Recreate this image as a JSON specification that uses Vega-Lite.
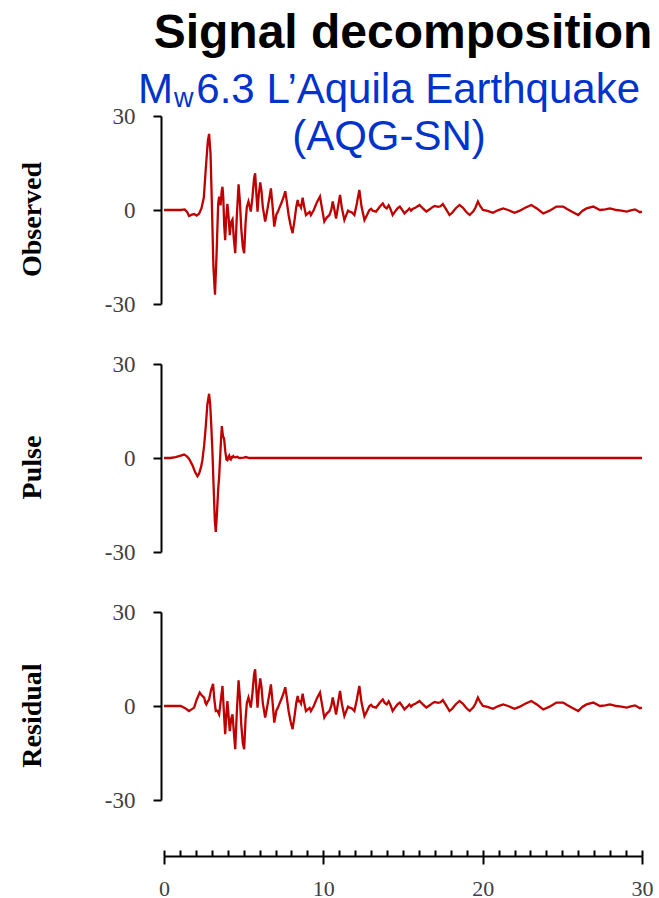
{
  "$schema": "https://vega.github.io/schema/vega-lite/v6.json",
  "background": "white",
  "padding": {"left": 18, "top": 10, "right": 5, "bottom": 0},
  "title": {"text": "Signal decomposition", "font": "Liberation Sans", "fontSize": 48, "fontWeight": "bold", "color": "black", "anchor": "middle", "frame": "group", "offset": 11},
  "bounds": "flush",
  "spacing": 60,
  "datasets": {
    "observed": [
      {"t":0,"v":0},{"t":0.5,"v":0},{"t":1.05,"v":0},{"t":1.3,"v":0.2},{"t":1.45,"v":-0.6},{"t":1.57,"v":-1.9},{"t":1.75,"v":-1.5},{"t":1.9,"v":-1.3},{"t":2.05,"v":-1.8},{"t":2.2,"v":-1.2},{"t":2.35,"v":0.5},{"t":2.5,"v":4},{"t":2.62,"v":13},{"t":2.75,"v":22},{"t":2.83,"v":24.3},{"t":2.92,"v":18},{"t":3.0,"v":3},{"t":3.1,"v":-18},{"t":3.2,"v":-27},{"t":3.3,"v":-14},{"t":3.4,"v":2},{"t":3.46,"v":4.3},{"t":3.55,"v":1.5},{"t":3.62,"v":6},{"t":3.67,"v":7.4},{"t":3.72,"v":4},{"t":3.78,"v":-5},{"t":3.84,"v":-9.6},{"t":3.9,"v":-3},{"t":3.98,"v":2},{"t":4.05,"v":-2},{"t":4.13,"v":-8},{"t":4.2,"v":-4},{"t":4.3,"v":-3},{"t":4.38,"v":-9},{"t":4.47,"v":-13.8},
      {"t":4.57,"v":-2},{"t":4.68,"v":8.2},{"t":4.76,"v":3},{"t":4.85,"v":-6},{"t":4.95,"v":-12},{"t":5.03,"v":-13.8},{"t":5.12,"v":-4},{"t":5.2,"v":1},{"t":5.3,"v":2.7},{"t":5.45,"v":-0.5},{"t":5.55,"v":4},{"t":5.65,"v":10},{"t":5.72,"v":11.7},{"t":5.8,"v":5},{"t":5.87,"v":-0.5},{"t":5.95,"v":5},{"t":6.04,"v":8.8},{"t":6.12,"v":6},{"t":6.2,"v":1},{"t":6.35,"v":-3.7},{"t":6.45,"v":-1},{"t":6.55,"v":2},{"t":6.62,"v":4},{"t":6.71,"v":6.9},{"t":6.8,"v":2},{"t":6.92,"v":-5.3},{"t":7.05,"v":-1.5},{"t":7.15,"v":-0.5},{"t":7.23,"v":0.5},{"t":7.35,"v":2},{"t":7.5,"v":4},{"t":7.61,"v":6},{"t":7.7,"v":3},{"t":7.82,"v":-1.6},{"t":7.95,"v":-5},{"t":8.07,"v":-7.4},{"t":8.2,"v":-3},{"t":8.3,"v":1},{"t":8.39,"v":3.2},{"t":8.45,"v":1.5},{"t":8.53,"v":1.6},{"t":8.6,"v":0.8},{"t":8.7,"v":3.9},{"t":8.8,"v":1},{"t":8.91,"v":-1.6},{"t":9.05,"v":-1},{"t":9.14,"v":-0.6},{"t":9.22,"v":-1.6},{"t":9.4,"v":0},{"t":9.6,"v":2.5},{"t":9.79,"v":4.3},{"t":9.9,"v":1},{"t":10.06,"v":-3.7},{"t":10.2,"v":-2.5},{"t":10.38,"v":-1.6},{"t":10.5,"v":0},{"t":10.59,"v":2.7},{"t":10.7,"v":0},{"t":10.8,"v":-2.7},{"t":10.92,"v":1},{"t":11.05,"v":4.8},{"t":11.15,"v":1},{"t":11.32,"v":-3.2},{"t":11.45,"v":-1.5},{"t":11.55,"v":-0.2},{"t":11.64,"v":-0.5},{"t":11.8,"v":-0.8},{"t":11.95,"v":-1.6},{"t":12.1,"v":2},{"t":12.26,"v":6.4},{"t":12.4,"v":1},{"t":12.58,"v":-3.2},{"t":12.75,"v":-1.5},{"t":12.89,"v":0},{"t":13.0,"v":0.4},{"t":13.1,"v":-0.2},{"t":13.31,"v":-0.5},{"t":13.5,"v":0.8},{"t":13.62,"v":1.5},{"t":13.73,"v":2.1},{"t":13.85,"v":1},{"t":13.98,"v":0.5},{"t":14.1,"v":1.5},{"t":14.2,"v":0.5},{"t":14.35,"v":-1.6},{"t":14.5,"v":-0.5},{"t":14.65,"v":0.5},{"t":14.8,"v":1.1},{"t":14.95,"v":0},{"t":15.09,"v":-1.1},{"t":15.25,"v":-0.3},{"t":15.4,"v":0.5},{"t":15.5,"v":-0.2},{"t":15.6,"v":0.3},{"t":15.8,"v":0.8},{"t":16.04,"v":1.6},{"t":16.25,"v":0.5},{"t":16.46,"v":-0.5},{"t":16.7,"v":0.3},{"t":16.85,"v":0.9},{"t":16.98,"v":1.3},{"t":17.2,"v":1},{"t":17.35,"v":1.2},{"t":17.5,"v":1.9},{"t":17.7,"v":0.3},{"t":17.92,"v":-1.6},{"t":18.1,"v":-0.8},{"t":18.3,"v":0.5},{"t":18.55,"v":1.6},{"t":18.75,"v":0.8},{"t":18.95,"v":-0.5},{"t":19.18,"v":-1.6},{"t":19.4,"v":-0.5},{"t":19.55,"v":0.8},{"t":19.7,"v":2.7},{"t":19.85,"v":1.2},{"t":20.02,"v":0},{"t":20.3,"v":-0.3},{"t":20.65,"v":-0.9},{"t":20.95,"v":-0.1},{"t":21.28,"v":0.5},{"t":21.6,"v":0},{"t":22.0,"v":-0.9},{"t":22.3,"v":-0.3},{"t":22.7,"v":0.8},{"t":23.06,"v":1.6},{"t":23.4,"v":0.5},{"t":23.8,"v":-1.1},{"t":24.2,"v":-0.2},{"t":24.63,"v":1.1},{"t":25.05,"v":1.1},{"t":25.3,"v":0.3},{"t":25.58,"v":-0.5},{"t":26.0,"v":-1.6},{"t":26.25,"v":-0.3},{"t":26.52,"v":0.5},{"t":26.94,"v":1.1},{"t":27.36,"v":0},{"t":27.7,"v":0.2},{"t":27.99,"v":0.5},{"t":28.4,"v":0},{"t":28.7,"v":-0.2},{"t":29.04,"v":-0.5},{"t":29.3,"v":-0.1},{"t":29.56,"v":0.2},{"t":29.87,"v":-0.7},{"t":30,"v":-0.5}
    ],
    "pulse": [
      {"t":0,"v":0},{"t":0.4,"v":0},{"t":0.73,"v":0.3},{"t":1.0,"v":0.7},{"t":1.26,"v":1.1},{"t":1.42,"v":0.6},{"t":1.57,"v":-0.2},{"t":1.8,"v":-2.5},{"t":1.95,"v":-4.5},{"t":2.1,"v":-5.8},{"t":2.2,"v":-5},{"t":2.32,"v":-3},{"t":2.41,"v":-0.7},{"t":2.52,"v":4},{"t":2.62,"v":10},{"t":2.72,"v":17},{"t":2.83,"v":20.5},{"t":2.9,"v":17},{"t":2.97,"v":10},{"t":3.04,"v":2},{"t":3.12,"v":-10},{"t":3.19,"v":-20},{"t":3.25,"v":-23.6},{"t":3.32,"v":-18},{"t":3.4,"v":-10},{"t":3.46,"v":-6.1},{"t":3.55,"v":3},{"t":3.63,"v":10.2},{"t":3.7,"v":7},{"t":3.77,"v":6.2},{"t":3.85,"v":2},{"t":3.92,"v":-0.5},{"t":3.98,"v":-0.7},{"t":4.05,"v":0.5},{"t":4.09,"v":0.8},{"t":4.14,"v":-0.3},{"t":4.19,"v":-0.5},{"t":4.25,"v":0.3},{"t":4.3,"v":0.2},{"t":4.35,"v":0.6},{"t":4.4,"v":0.3},{"t":4.5,"v":0.2},{"t":4.6,"v":0.4},{"t":4.72,"v":0},{"t":5.0,"v":0.1},{"t":5.14,"v":0.3},{"t":5.35,"v":0},{"t":10,"v":0},{"t":20,"v":0},{"t":30,"v":0}
    ],
    "residual": [
      {"t":0,"v":0},{"t":0.5,"v":0},{"t":1.05,"v":0},{"t":1.3,"v":-0.6},{"t":1.57,"v":-1.6},{"t":1.75,"v":-1},{"t":1.89,"v":-0.5},{"t":2.05,"v":2},{"t":2.24,"v":4.3},{"t":2.35,"v":3.5},{"t":2.52,"v":2.7},{"t":2.6,"v":1},{"t":2.66,"v":0.5},{"t":2.75,"v":1.5},{"t":2.83,"v":2.1},{"t":2.95,"v":5},{"t":3.08,"v":7.1},{"t":3.16,"v":2},{"t":3.25,"v":-1.6},{"t":3.35,"v":-1.5},{"t":3.46,"v":-2.7},{"t":3.57,"v":2},{"t":3.67,"v":6.4},{"t":3.76,"v":-2},{"t":3.84,"v":-9},{"t":3.91,"v":-3},{"t":3.98,"v":1.6},{"t":4.05,"v":-3},{"t":4.13,"v":-8},{"t":4.22,"v":-4},{"t":4.3,"v":-2.7},{"t":4.38,"v":-8},{"t":4.47,"v":-13.8},
      {"t":4.57,"v":-2},{"t":4.68,"v":8.2},{"t":4.76,"v":3},{"t":4.85,"v":-6},{"t":4.95,"v":-12},{"t":5.03,"v":-13.8},{"t":5.12,"v":-4},{"t":5.2,"v":1},{"t":5.3,"v":2.7},{"t":5.45,"v":-0.5},{"t":5.55,"v":4},{"t":5.65,"v":10},{"t":5.72,"v":11.7},{"t":5.8,"v":5},{"t":5.87,"v":-0.5},{"t":5.95,"v":5},{"t":6.04,"v":8.8},{"t":6.12,"v":6},{"t":6.2,"v":1},{"t":6.35,"v":-3.7},{"t":6.45,"v":-1},{"t":6.55,"v":2},{"t":6.62,"v":4},{"t":6.71,"v":6.9},{"t":6.8,"v":2},{"t":6.92,"v":-5.3},{"t":7.05,"v":-1.5},{"t":7.15,"v":-0.5},{"t":7.23,"v":0.5},{"t":7.35,"v":2},{"t":7.5,"v":4},{"t":7.61,"v":6},{"t":7.7,"v":3},{"t":7.82,"v":-1.6},{"t":7.95,"v":-5},{"t":8.07,"v":-7.4},{"t":8.2,"v":-3},{"t":8.3,"v":1},{"t":8.39,"v":3.2},{"t":8.45,"v":1.5},{"t":8.53,"v":1.6},{"t":8.6,"v":0.8},{"t":8.7,"v":3.9},{"t":8.8,"v":1},{"t":8.91,"v":-1.6},{"t":9.05,"v":-1},{"t":9.14,"v":-0.6},{"t":9.22,"v":-1.6},{"t":9.4,"v":0},{"t":9.6,"v":2.5},{"t":9.79,"v":4.3},{"t":9.9,"v":1},{"t":10.06,"v":-3.7},{"t":10.2,"v":-2.5},{"t":10.38,"v":-1.6},{"t":10.5,"v":0},{"t":10.59,"v":2.7},{"t":10.7,"v":0},{"t":10.8,"v":-2.7},{"t":10.92,"v":1},{"t":11.05,"v":4.8},{"t":11.15,"v":1},{"t":11.32,"v":-3.2},{"t":11.45,"v":-1.5},{"t":11.55,"v":-0.2},{"t":11.64,"v":-0.5},{"t":11.8,"v":-0.8},{"t":11.95,"v":-1.6},{"t":12.1,"v":2},{"t":12.26,"v":6.4},{"t":12.4,"v":1},{"t":12.58,"v":-3.2},{"t":12.75,"v":-1.5},{"t":12.89,"v":0},{"t":13.0,"v":0.4},{"t":13.1,"v":-0.2},{"t":13.31,"v":-0.5},{"t":13.5,"v":0.8},{"t":13.62,"v":1.5},{"t":13.73,"v":2.1},{"t":13.85,"v":1},{"t":13.98,"v":0.5},{"t":14.1,"v":1.5},{"t":14.2,"v":0.5},{"t":14.35,"v":-1.6},{"t":14.5,"v":-0.5},{"t":14.65,"v":0.5},{"t":14.8,"v":1.1},{"t":14.95,"v":0},{"t":15.09,"v":-1.1},{"t":15.25,"v":-0.3},{"t":15.4,"v":0.5},{"t":15.5,"v":-0.2},{"t":15.6,"v":0.3},{"t":15.8,"v":0.8},{"t":16.04,"v":1.6},{"t":16.25,"v":0.5},{"t":16.46,"v":-0.5},{"t":16.7,"v":0.3},{"t":16.85,"v":0.9},{"t":16.98,"v":1.3},{"t":17.2,"v":1},{"t":17.35,"v":1.2},{"t":17.5,"v":1.9},{"t":17.7,"v":0.3},{"t":17.92,"v":-1.6},{"t":18.1,"v":-0.8},{"t":18.3,"v":0.5},{"t":18.55,"v":1.6},{"t":18.75,"v":0.8},{"t":18.95,"v":-0.5},{"t":19.18,"v":-1.6},{"t":19.4,"v":-0.5},{"t":19.55,"v":0.8},{"t":19.7,"v":2.7},{"t":19.85,"v":1.2},{"t":20.02,"v":0},{"t":20.3,"v":-0.3},{"t":20.65,"v":-0.9},{"t":20.95,"v":-0.1},{"t":21.28,"v":0.5},{"t":21.6,"v":0},{"t":22.0,"v":-0.9},{"t":22.3,"v":-0.3},{"t":22.7,"v":0.8},{"t":23.06,"v":1.6},{"t":23.4,"v":0.5},{"t":23.8,"v":-1.1},{"t":24.2,"v":-0.2},{"t":24.63,"v":1.1},{"t":25.05,"v":1.1},{"t":25.3,"v":0.3},{"t":25.58,"v":-0.5},{"t":26.0,"v":-1.6},{"t":26.25,"v":-0.3},{"t":26.52,"v":0.5},{"t":26.94,"v":1.1},{"t":27.36,"v":0},{"t":27.7,"v":0.2},{"t":27.99,"v":0.5},{"t":28.4,"v":0},{"t":28.7,"v":-0.2},{"t":29.04,"v":-0.5},{"t":29.3,"v":-0.1},{"t":29.56,"v":0.2},{"t":29.87,"v":-0.7},{"t":30,"v":-0.5}
    ]
  },
  "vconcat": [
    {
      "title": {"text": ["M\u00a0\u00a06.3 L\u2019Aquila Earthquake", "(AQG-SN)"], "font": "Liberation Sans", "fontSize": 42, "fontWeight": "normal", "color": "#0033cc", "lineHeight": 47, "anchor": "middle", "frame": "group", "dx": -14, "offset": -54},
      "width": 478, "height": 188,
      "data": {"name": "observed"},
      "mark": {"type": "line"},
      "encoding": {
        "x": {"field": "t", "type": "quantitative", "scale": {"domain": [0, 30], "nice": false}, "axis": null},
        "y": {"field": "v", "type": "quantitative", "scale": {"domain": [-30, 30], "nice": false, "zero": false}, "axis": {"values": [-30, 0, 30], "title": "Observed"}}
      }
    },
    {
      "title": {"text": "w", "font": "Liberation Sans", "fontSize": 27, "fontWeight": "normal", "color": "#0033cc", "anchor": "start", "frame": "group", "dx": 10, "offset": 240},
      "width": 478, "height": 188,
      "data": {"name": "pulse"},
      "mark": {"type": "line"},
      "encoding": {
        "x": {"field": "t", "type": "quantitative", "scale": {"domain": [0, 30], "nice": false}, "axis": null},
        "y": {"field": "v", "type": "quantitative", "scale": {"domain": [-30, 30], "nice": false, "zero": false}, "axis": {"values": [-30, 0, 30], "title": "Pulse"}}
      }
    },
    {
      "width": 478, "height": 188,
      "data": {"name": "residual"},
      "layer": [
        {
          "mark": {"type": "line"},
          "encoding": {
            "x": {"field": "t", "type": "quantitative", "scale": {"domain": [0, 30], "nice": false}, "axis": {"orient": "bottom", "values": [0,1,2,3,4,5,6,7,8,9,10,11,12,13,14,15,16,17,18,19,20,21,22,23,24,25,26,27,28,29,30], "labels": false, "tickSize": -6, "offset": 56, "title": null}},
            "y": {"field": "v", "type": "quantitative", "scale": {"domain": [-30, 30], "nice": false, "zero": false}, "axis": {"values": [-30, 0, 30], "title": "Residual"}}
          }
        },
        {
          "mark": {"type": "line", "opacity": 0},
          "encoding": {
            "x": {"field": "t", "type": "quantitative", "scale": {"domain": [0, 30], "nice": false}, "axis": {"orient": "bottom", "values": [0, 10, 20, 30], "domain": false, "tickSize": 8, "offset": 56, "labelPadding": 14, "labelFlush": false, "title": null}},
            "y": {"field": "v", "type": "quantitative", "scale": {"domain": [-30, 30], "nice": false, "zero": false}, "axis": {"values": [-30, 0, 30], "title": "Residual"}}
          }
        }
      ],
      "resolve": {"axis": {"x": "independent"}}
    }
  ],
  "config": {
    "view": {"stroke": null},
    "axis": {"grid": false, "domainColor": "black", "domainWidth": 2, "tickColor": "black", "tickWidth": 2, "labelFont": "Liberation Serif", "labelFontSize": 22, "labelColor": "#404040", "labelExpr": "'' + datum.value", "titleFont": "Liberation Serif", "titleFontSize": 28, "titleFontWeight": "bold", "titleColor": "black"},
    "axisY": {"tickSize": 8, "offset": 3, "labelFontSize": 23, "labelPadding": 18, "titlePadding": 58, "titleY": 103},
    "line": {"color": "#c00000", "strokeWidth": 2.3}
  }
}
